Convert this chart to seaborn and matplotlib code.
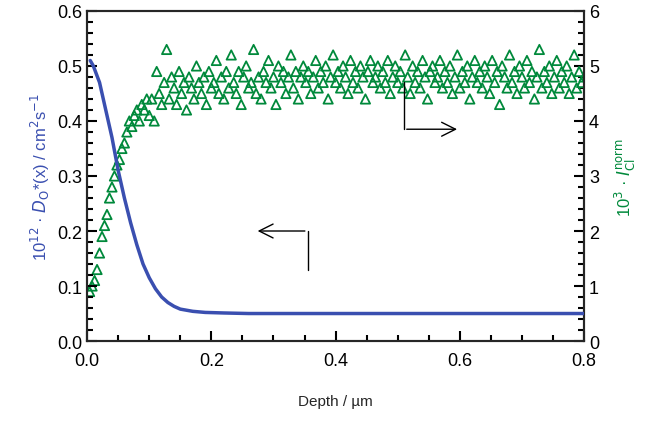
import numpy as np
import pandas as pd
import matplotlib
matplotlib.use("Agg")
import matplotlib.pyplot as plt
import seaborn as sns
from matplotlib.ticker import MultipleLocator

sns.set_style("ticks")
plt.rcParams['font.family'] = ['Liberation Sans', 'DejaVu Sans']

# diffusivity profile (left axis)
d_depth = [0.005, 0.01, 0.02, 0.03, 0.04, 0.05, 0.06, 0.07, 0.08, 0.09, 0.10, 0.11, 0.12,
           0.13, 0.14, 0.15, 0.17, 0.19, 0.22, 0.26, 0.30, 0.40, 0.50, 0.60, 0.70, 0.80]
d_val = [0.51, 0.50, 0.47, 0.42, 0.37, 0.31, 0.26, 0.215, 0.175, 0.14, 0.115, 0.095, 0.08,
         0.07, 0.063, 0.058, 0.054, 0.052, 0.051, 0.05, 0.05, 0.05, 0.05, 0.05, 0.05, 0.05]

# Cl intensity (right axis), 200 points at depth step 0.004
cl_val = [0.9, 1.0, 1.1, 1.3, 1.6, 1.9, 2.1, 2.3, 2.6, 2.8, 3.0, 3.2, 3.3, 3.5, 3.6, 3.8, 4.0, 3.9, 4.1, 4.2,
          4.0, 4.3, 4.2, 4.4, 4.1, 4.4, 4.0, 4.9, 4.5, 4.3, 4.7, 5.3, 4.4, 4.8, 4.6, 4.3, 4.9, 4.5, 4.7, 4.2,
          4.8, 4.6, 4.4, 5.0, 4.7, 4.5, 4.8, 4.3, 4.9, 4.6, 4.7, 5.1, 4.5, 4.8, 4.4, 4.9, 4.6, 5.2, 4.7, 4.5,
          4.9, 4.3, 4.8, 5.0, 4.6, 4.7, 5.3, 4.5, 4.8, 4.4, 4.9, 4.7, 5.1, 4.6, 4.8, 4.3, 5.0, 4.7, 4.9, 4.5,
          4.8, 5.2, 4.6, 4.9, 4.4, 4.8, 5.0, 4.7, 4.9, 4.5, 4.8, 5.1, 4.6, 4.9, 4.7, 5.0, 4.4, 4.8, 5.2, 4.7,
          4.9, 4.6, 5.0, 4.8, 4.5, 5.1, 4.7, 4.9, 4.6, 5.0, 4.8, 4.4, 4.9, 5.1, 4.7, 4.8, 5.0, 4.6, 4.9, 4.7,
          5.1, 4.5, 4.8, 5.0, 4.7, 4.9, 4.6, 5.2, 4.8, 4.5, 5.0, 4.7, 4.9, 4.6, 5.1, 4.8, 4.4, 4.9, 5.0, 4.7,
          4.8, 5.1, 4.6, 4.9, 4.7, 5.0, 4.5, 4.8, 5.2, 4.6, 4.9, 4.7, 5.0, 4.4, 4.8, 5.1, 4.7, 4.9, 4.6, 5.0,
          4.8, 4.5, 5.1, 4.7, 4.9, 4.3, 5.0, 4.8, 4.6, 5.2, 4.7, 4.9, 4.5, 5.0, 4.8, 4.6, 5.1, 4.7, 4.9, 4.4,
          4.8, 5.3, 4.6, 4.9, 4.7, 5.0, 4.5, 4.8, 5.1, 4.6, 4.9, 4.7, 5.0, 4.5, 4.8, 5.2, 4.6, 4.9, 4.7, 4.8]
cl_depth = np.arange(1, len(cl_val) + 1) * 0.004

blue = "#3a4fb0"
green = "#00893b"

fig = plt.figure(figsize=(6.6, 4.27), dpi=100)
ax = fig.add_axes([0.132, 0.199, 0.753, 0.773])
ax2 = ax.twinx()

sns.lineplot(x=d_depth, y=d_val, ax=ax, color=blue, lw=2.5, zorder=3)
sns.scatterplot(x=cl_depth, y=cl_val, ax=ax2, marker="^", s=45, facecolors="none",
                edgecolor=green, linewidth=1.3, color=green)
ax.set_zorder(2)
ax.patch.set_visible(False)

ax.set_xlim(0, 0.8)
ax.set_ylim(0, 0.6)
ax2.set_ylim(0, 6)
ax.xaxis.set_major_locator(MultipleLocator(0.2))
ax.xaxis.set_minor_locator(MultipleLocator(0.05))
ax.yaxis.set_major_locator(MultipleLocator(0.1))
ax.yaxis.set_minor_locator(MultipleLocator(0.02))
ax2.yaxis.set_major_locator(MultipleLocator(1))
ax2.yaxis.set_minor_locator(MultipleLocator(0.2))
for a in (ax, ax2):
    a.tick_params(which="both", direction="in", width=1.5, labelsize=13, colors="black")
    a.tick_params(which="major", length=7)
    a.tick_params(which="minor", length=4)
    for s in a.spines.values():
        s.set_visible(True)
        s.set_linewidth(1.5)
ax.tick_params(axis="x", pad=8)

ax.set_xlabel("Depth / µm", fontsize=11, labelpad=18)
ax.set_ylabel(r"10$^{12}$ · $D_{\mathrm{O}}$*(x) / cm$^2$s$^{-1}$", color=blue, fontsize=12)
ax2.set_ylabel(r"10$^3$ · $I_{\mathrm{Cl}}^{\mathrm{norm}}$", color=green, fontsize=12, labelpad=10)

# bent arrows
ax.plot([0.355, 0.355], [0.13, 0.2], color="black", lw=1)
ax.annotate("", xy=(0.27, 0.2), xytext=(0.355, 0.2),
            arrowprops=dict(arrowstyle="->", color="black", lw=1, mutation_scale=25))
ax.plot([0.51, 0.51], [0.47, 0.385], color="black", lw=1)
ax.annotate("", xy=(0.6, 0.385), xytext=(0.51, 0.385),
            arrowprops=dict(arrowstyle="->", color="black", lw=1, mutation_scale=25))

fig.savefig("out.png", dpi=100)
